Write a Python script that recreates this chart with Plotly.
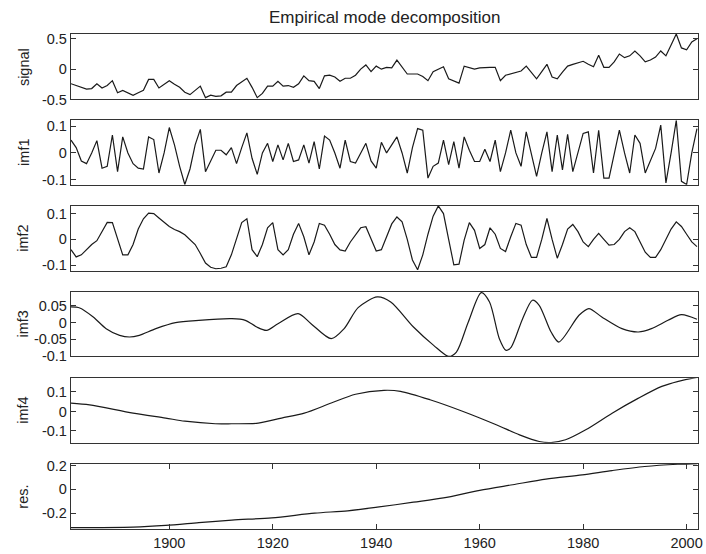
import plotly.graph_objects as go

years = list(range(1881, 2003))

signal = [-0.24, -0.27, -0.31, -0.33, -0.32, -0.24, -0.31, -0.27, -0.19, -0.39,
          -0.35, -0.39, -0.43, -0.39, -0.35, -0.17, -0.17, -0.31, -0.25, -0.19,
          -0.25, -0.30, -0.38, -0.42, -0.35, -0.28, -0.47, -0.43, -0.45, -0.44,
          -0.38, -0.38, -0.27, -0.21, -0.15, -0.30, -0.47, -0.40, -0.28, -0.28,
          -0.20, -0.28, -0.27, -0.30, -0.24, -0.11, -0.19, -0.20, -0.32, -0.11,
          -0.10, -0.13, -0.20, -0.15, -0.15, -0.10, 0.00, 0.07, -0.04, 0.05,
          0.00, 0.03, 0.02, 0.15, 0.03, -0.08, -0.08, -0.08, -0.12, -0.19,
          -0.04, 0.00, 0.04, -0.16, -0.20, -0.23, 0.05, 0.02, 0.00, 0.02,
          0.03, 0.03, 0.03, -0.19, -0.10, -0.08, -0.06, -0.03, 0.05, -0.05,
          -0.16, -0.04, 0.08, -0.13, -0.16, -0.05, 0.05, 0.08, 0.11, 0.13,
          0.08, 0.04, 0.23, 0.03, 0.03, 0.12, 0.25, 0.19, 0.22, 0.30,
          0.22, 0.12, 0.15, 0.20, 0.30, 0.22, 0.40, 0.58, 0.35, 0.32,
          0.45, 0.50]

imf1 = [0.048, 0.02, -0.03, -0.04, 0.0, 0.046, -0.057, -0.05, 0.067, -0.07,
        0.06, 0.0, -0.04, -0.057, -0.06, 0.06, 0.05, -0.075, 0.0, 0.095,
        0.03, -0.05, -0.118, -0.06, 0.03, 0.088, -0.07, -0.03, 0.01, 0.01,
        -0.007, 0.02, -0.04, 0.02, 0.075, -0.02, -0.08, 0.0, 0.036, -0.032,
        0.03, -0.026, 0.036, -0.032, -0.026, 0.03, -0.038, 0.042, -0.06, 0.063,
        0.048, 0.0, -0.057, 0.048, -0.032, -0.038, 0.0, 0.036, -0.03, -0.057,
        0.04, 0.0, 0.03, 0.06, 0.0, -0.075, 0.02, 0.091, 0.085, -0.094,
        -0.05, -0.038, 0.048, -0.044, 0.042, -0.057, 0.06, 0.01, -0.032, -0.032,
        0.014, -0.032, 0.048, -0.07, 0.0, 0.085, 0.0, -0.05, 0.079, 0.0,
        -0.088, 0.0, 0.079, -0.07, 0.067, -0.063, 0.07, -0.07, 0.0, 0.073,
        0.079, -0.075, 0.085, -0.094, -0.094, 0.0, 0.085, 0.0, -0.075, 0.067,
        0.036, -0.075, -0.03, 0.017, 0.104, -0.112, 0.0, 0.122, -0.106, -0.118,
        0.0, 0.091]

imf2 = [-0.04, -0.068, -0.06, -0.04, -0.02, -0.005, 0.03, 0.066, 0.065, 0.0,
        -0.06, -0.06, -0.02, 0.04, 0.08, 0.102, 0.1, 0.083, 0.065, 0.05,
        0.038, 0.03, 0.018, 0.0, -0.02, -0.055, -0.092, -0.108, -0.114, -0.112,
        -0.106, -0.06, 0.004, 0.065, 0.08, -0.04, -0.067, -0.02, 0.045, 0.065,
        -0.04, -0.06, -0.04, 0.02, 0.062, 0.01, -0.06, -0.01, 0.062, 0.055,
        0.02, -0.02, -0.041, -0.045, -0.01, 0.02, 0.045, 0.049, 0.0, -0.045,
        -0.04, 0.01, 0.06, 0.087, 0.068, 0.0, -0.08, -0.118, -0.06, 0.02,
        0.09, 0.13, 0.1, 0.0, -0.099, -0.096, -0.003, 0.065, 0.035, -0.035,
        -0.02, 0.045, 0.02, -0.035, -0.047, 0.01, 0.062, 0.055, -0.02, -0.07,
        -0.07, 0.0, 0.081, 0.0, -0.073, -0.02, 0.04, 0.058, 0.03, -0.01,
        -0.028, 0.0, 0.023, 0.0, -0.022, -0.02, 0.0, 0.03, 0.045, 0.03,
        -0.01, -0.05, -0.07, -0.07, -0.04, 0.0, 0.04, 0.068, 0.05, 0.02,
        -0.01, -0.028]

imf3_years = [1881, 1882.7, 1885.3, 1887.8, 1890.4, 1892.3, 1894.2, 1897.4, 1901.2, 1905.7,
              1912.1, 1914.7, 1916.9, 1918.8, 1921.0, 1924.9, 1927.4, 1931.3, 1933.8, 1936.5,
              1940.2, 1942.8, 1947.2, 1951.1, 1954.0, 1955.5, 1957.8, 1960.3, 1961.9, 1963.8,
              1965.1, 1966.1, 1968.3, 1970.2, 1971.5, 1973.8, 1975.3, 1979.2, 1981.1, 1983.6,
              1987.5, 1990.7, 1993.2, 1996.4, 1999.0, 2002]
imf3 = [0.047, 0.044, 0.017, -0.018, -0.038, -0.043, -0.038, -0.018, 0.0, 0.007,
        0.012, 0.007, -0.013, -0.023, -0.003, 0.027, -0.003, -0.048, -0.018, 0.045,
        0.077, 0.062, -0.013, -0.068, -0.101, -0.088, 0.002, 0.09, 0.062, -0.048,
        -0.083, -0.073, 0.012, 0.067, 0.052, -0.028, -0.058, 0.022, 0.042, 0.017,
        -0.018, -0.028, -0.018, 0.007, 0.024, 0.01]

imf4_years = [1881, 1884.6, 1893, 1899.3, 1903, 1908.9, 1912, 1917.2, 1921.7, 1926.1,
              1931.3, 1936, 1941.5, 1944.7, 1950.4, 1956.8, 1963.2, 1967.7, 1971.5, 1973.8,
              1976.6, 1980.5, 1985.6, 1990.7, 1995.2, 1998.4, 2002]
imf4 = [0.043, 0.034, -0.009, -0.034, -0.05, -0.063, -0.063, -0.06, -0.034, -0.009,
        0.043, 0.088, 0.108, 0.103, 0.06, 0.0, -0.068, -0.12, -0.154, -0.159,
        -0.145, -0.094, -0.009, 0.068, 0.128, 0.154, 0.174]

res_years = [1881, 1893, 1899.3, 1905.7, 1912.1, 1919.8, 1928.1, 1934.5, 1940.2, 1947.2,
             1953, 1960, 1966.4, 1972.8, 1979.8, 1985.6, 1991.9, 1998.3, 2002]
res = [-0.322, -0.317, -0.303, -0.28, -0.258, -0.239, -0.2, -0.18, -0.15, -0.108,
       -0.072, -0.008, 0.039, 0.086, 0.122, 0.158, 0.192, 0.211, 0.217]

labels = ["signal", "imf1", "imf2", "imf3", "imf4", "res."]
y_ranges = [[-0.5, 0.58], [-0.119, 0.122], [-0.123, 0.131], [-0.101, 0.092], [-0.16, 0.17], [-0.333, 0.217]]
y_ticks = [[-0.5, 0, 0.5], [-0.1, 0, 0.1], [-0.1, 0, 0.1], [-0.1, -0.05, 0, 0.05], [-0.1, 0, 0.1], [-0.2, 0, 0.2]]
y_ticktext = [["-0.5", "0", "0.5"], ["-0.1", "0", "0.1"], ["-0.1", "0", "0.1"],
              ["-0.1", "-0.05", "0", "0.05"], ["-0.1", "0", "0.1"], ["-0.2", "0", "0.2"]]
x_ticks = [1900, 1920, 1940, 1960, 1980, 2000]

series = [(years, signal, "linear"), (years, imf1, "linear"), (years, imf2, "linear"),
          (imf3_years, imf3, "spline"), (imf4_years, imf4, "spline"), (res_years, res, "spline")]

H, W = 554, 706
mt, mb, ml, mr = 34, 21, 71, 3
ph = H - mt - mb
pix = [(34, 100), (121, 186), (207, 273), (294, 359), (381, 446), (467, 533)]
domains = [[(H - mb - b) / ph, (H - mb - t) / ph] for t, b in pix]

fam = "Liberation Sans, Arial, Helvetica, sans-serif"
font = dict(family=fam, size=14.5, color="#222")

fig = go.Figure()
for i, (xs, ys, shape) in enumerate(series):
    n = i + 1
    xa = "x" if n == 1 else f"x{n}"
    ya = "y" if n == 1 else f"y{n}"
    fig.add_trace(go.Scatter(x=xs, y=ys, mode="lines",
                             line=dict(color="#1a1a1a", width=1.2, shape=shape, smoothing=0.8),
                             xaxis=xa, yaxis=ya, showlegend=False, hoverinfo="skip"))
    last = (n == 6)
    xkey = "xaxis" if n == 1 else f"xaxis{n}"
    ykey = "yaxis" if n == 1 else f"yaxis{n}"
    fig.layout[xkey] = dict(domain=[0, 1], anchor=ya, range=[1881, 2002.2],
                            showline=True, mirror="ticks" if last else True,
                            linecolor="#333", linewidth=1.3,
                            ticks="inside" if last else "", ticklen=5, tickcolor="#333",
                            tickvals=x_ticks if last else [],
                            ticktext=[str(v) for v in x_ticks] if last else [],
                            showticklabels=last, showgrid=False, zeroline=False,
                            ticklabeloverflow="allow", tickfont=font)
    fig.layout[ykey] = dict(domain=domains[i], anchor=xa, range=y_ranges[i],
                            showline=True, mirror="ticks", linecolor="#333", linewidth=1.3,
                            ticks="inside", ticklen=5, tickcolor="#333",
                            tickvals=y_ticks[i], ticktext=y_ticktext[i],
                            showgrid=False, zeroline=False, tickfont=font)
    fig.add_annotation(text=labels[i], xref="paper", yref="paper",
                       x=(23 - ml) / (W - ml - mr), y=sum(domains[i]) / 2,
                       textangle=-90, showarrow=False, xanchor="center", yanchor="middle",
                       font=dict(family=fam, size=14.5, color="#222"))

fig.add_annotation(text="Empirical mode decomposition", xref="paper", yref="paper",
                   x=(388 - ml) / (W - ml - mr), y=(H - mb - 17) / ph, showarrow=False,
                   xanchor="center", yanchor="middle",
                   font=dict(family=fam, size=17, color="#222"))

fig.update_layout(width=W, height=H, margin=dict(l=ml, r=mr, t=mt, b=mb),
                  paper_bgcolor="white", plot_bgcolor="white")

fig.write_html("out.html")
